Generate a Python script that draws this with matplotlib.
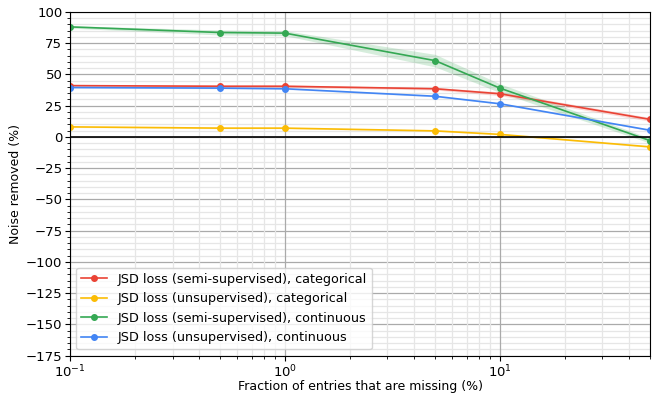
import numpy as np
import matplotlib.pyplot as plt

frac_missing = [0.1, 0.5, 1, 5, 10, 50]

semi_cat = [41.0, 40.5, 40.5, 38.5, 34.5, 14.0]
semi_cat_std = [1.0, 1.0, 1.0, 1.0, 1.5, 1.5]
unsup_cat = [8.0, 7.0, 7.0, 4.8, 2.0, -8.0]
unsup_cat_std = [0.5, 0.5, 0.5, 0.5, 0.5, 0.5]
semi_cont = [88.0, 83.5, 83.0, 61.0, 39.0, -3.0]
semi_cont_std = [1.0, 2.0, 2.0, 5.0, 3.5, 2.0]
unsup_cont = [39.5, 39.0, 38.5, 32.5, 26.5, 5.3]
unsup_cont_std = [0.5, 0.5, 0.5, 0.5, 0.5, 0.5]

labels = ['JSD loss (semi-supervised), categorical',
          'JSD loss (unsupervised), categorical',
          'JSD loss (semi-supervised), continuous',
          'JSD loss (unsupervised), continuous']
colors = ['#EA4335', '#FBBC05', '#34A853', '#4285F4']

fig = plt.figure(figsize=(6.54, 3.96), dpi=100)
ax = fig.add_axes([0.107, 0.102, 0.887, 0.868])

series = [(semi_cat, semi_cat_std), (unsup_cat, unsup_cat_std),
          (semi_cont, semi_cont_std), (unsup_cont, unsup_cont_std)]
x = np.array(frac_missing)
for (m, s), c, lab in zip(series, colors, labels):
    m = np.array(m)
    s = np.array(s)
    ax.fill_between(x, m - s, m + s, color=c, alpha=0.2, linewidth=0)
    ax.plot(x, m, color=c, marker='o', markersize=4, linewidth=1.2, label=lab)

ax.axhline(0, color='black', linewidth=1.2)
ax.set_xscale('log')
ax.set_xlim(0.1, 50)
ax.set_ylim(-175, 100)
ax.set_yticks(np.arange(-175, 101, 25))
ax.set_yticks(np.arange(-175, 101, 5), minor=True)
ax.tick_params(axis='both', which='major', labelsize=9.5, pad=2)
ax.grid(which='major', color='#aaaaaa', linewidth=0.9)
ax.grid(which='minor', color='#e6e6e6', linewidth=0.9)
ax.set_axisbelow(True)
ax.yaxis.set_zorder(0.4)
ax.set_xlabel('Fraction of entries that are missing (%)', fontsize=9, labelpad=0)
ax.set_ylabel('Noise removed (%)', fontsize=9, labelpad=3)
ax.legend(loc='lower left', fontsize=9.2)

fig.savefig('out.png', dpi=100)
